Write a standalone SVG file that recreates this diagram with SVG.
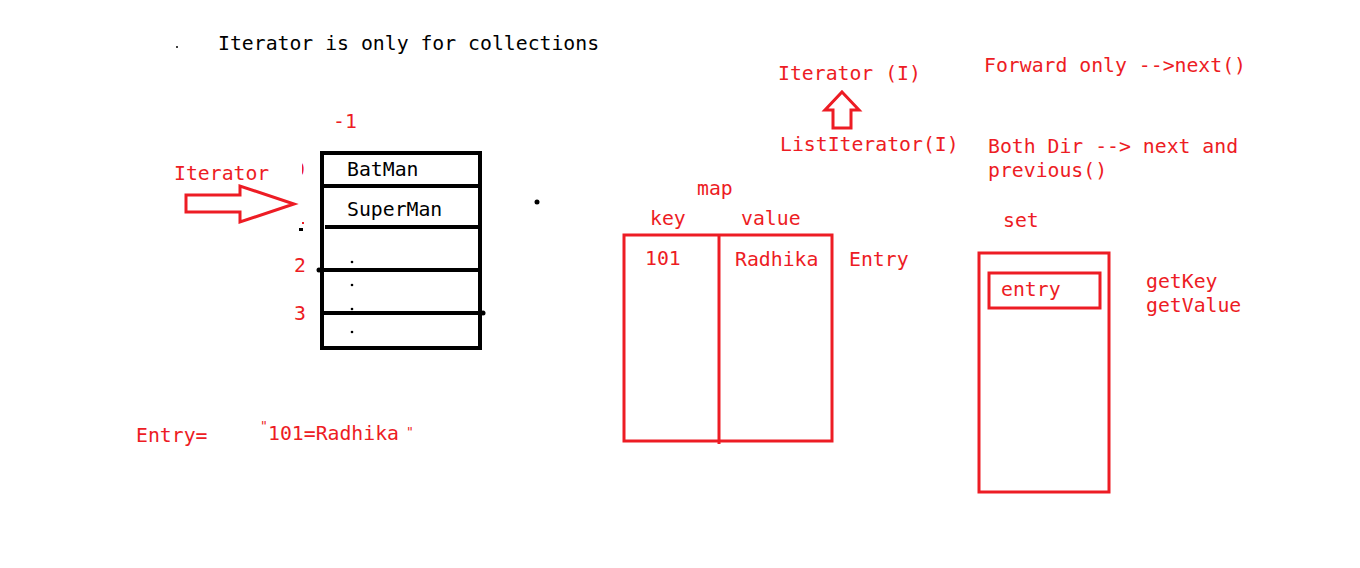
<svg xmlns="http://www.w3.org/2000/svg" width="1360" height="568" viewBox="0 0 1360 568">
<defs>
<style>
text{font-family:"DejaVu Sans Mono","Liberation Mono",monospace;font-size:19.8px}
.r{fill:#ed1c24}
.k{fill:#000}
.rs{fill:none;stroke:#ed1c24;stroke-width:3}
.ks{fill:none;stroke:#000;stroke-width:4}
.q{font-size:13px}
</style>
<clipPath id="c0"><rect x="302" y="150" width="20" height="30"/></clipPath>
</defs>
<rect width="1360" height="568" fill="#fff"/>

<g id="title">
<circle cx="177" cy="47" r="1" class="k"/>
<text x="218" y="50" class="k">Iterator is only for collections</text>
</g>

<g id="list">
<text x="333" y="128" class="r">-1</text>
<text x="293" y="176" class="r" clip-path="url(#c0)">0</text>
<rect x="299" y="228" width="4" height="3" class="k"/>
<rect x="302" y="222" width="2" height="2" class="r"/>
<text x="294" y="272" class="r">2</text>
<text x="294" y="320" class="r">3</text>
<rect x="322" y="153" width="158" height="195" class="ks"/>
<line x1="322" y1="186" x2="480" y2="186" class="ks"/>
<line x1="325" y1="227" x2="480" y2="227" class="ks"/>
<line x1="319" y1="270" x2="480" y2="270" class="ks"/>
<line x1="322" y1="313" x2="484" y2="313" class="ks"/>
<circle cx="319" cy="270" r="2.5" class="k"/>
<circle cx="483" cy="313" r="2.5" class="k"/>
<text x="347" y="176" class="k">BatMan</text>
<text x="347" y="216" class="k">SuperMan</text>
<circle cx="352" cy="262" r="1.3" class="k"/>
<circle cx="352" cy="285" r="1.3" class="k"/>
<circle cx="352" cy="309" r="1.3" class="k"/>
<circle cx="352" cy="332" r="1.3" class="k"/>
</g>

<g id="dot"><circle cx="537" cy="202" r="2.5" class="k"/></g>

<g id="iterator-pointer">
<text x="174" y="180" class="r">Iterator</text>
<path d="M186 195 H240 V186 L294 204 L240 222 V212 H186 Z" class="rs"/>
</g>

<g id="hierarchy">
<text x="778" y="80" class="r">Iterator (I)</text>
<path d="M842 92 L859 110 H851 V128 H833 V110 H825 Z" class="rs"/>
<text x="780" y="151" class="r">ListIterator(I)</text>
<text x="984" y="72" class="r">Forward only --&gt;next()</text>
<text x="988" y="153" class="r">Both Dir --&gt; next and</text>
<text x="988" y="177" class="r">previous()</text>
</g>

<g id="map">
<text x="697" y="195" class="r">map</text>
<text x="650" y="225" class="r">key</text>
<text x="741" y="225" class="r">value</text>
<rect x="624" y="235" width="208" height="206" class="rs"/>
<line x1="719" y1="235" x2="719" y2="444" class="rs"/>
<text x="645" y="265" class="r">101</text>
<text x="735" y="266" class="r">Radhika</text>
<text x="849" y="266" class="r">Entry</text>
</g>

<g id="set">
<text x="1003" y="227" class="r">set</text>
<rect x="979" y="253" width="130" height="239" class="rs"/>
<rect x="989" y="273" width="111" height="35" class="rs"/>
<text x="1001" y="296" class="r">entry</text>
<text x="1146" y="288" class="r">getKey</text>
<text x="1146" y="312" class="r">getValue</text>
</g>

<g id="entry-note">
<text x="136" y="442" class="r">Entry=</text>
<text x="260" y="430" class="r q">"</text>
<text x="268" y="440" class="r">101=Radhika</text>
<text x="406" y="436" class="r q">"</text>
</g>
</svg>
